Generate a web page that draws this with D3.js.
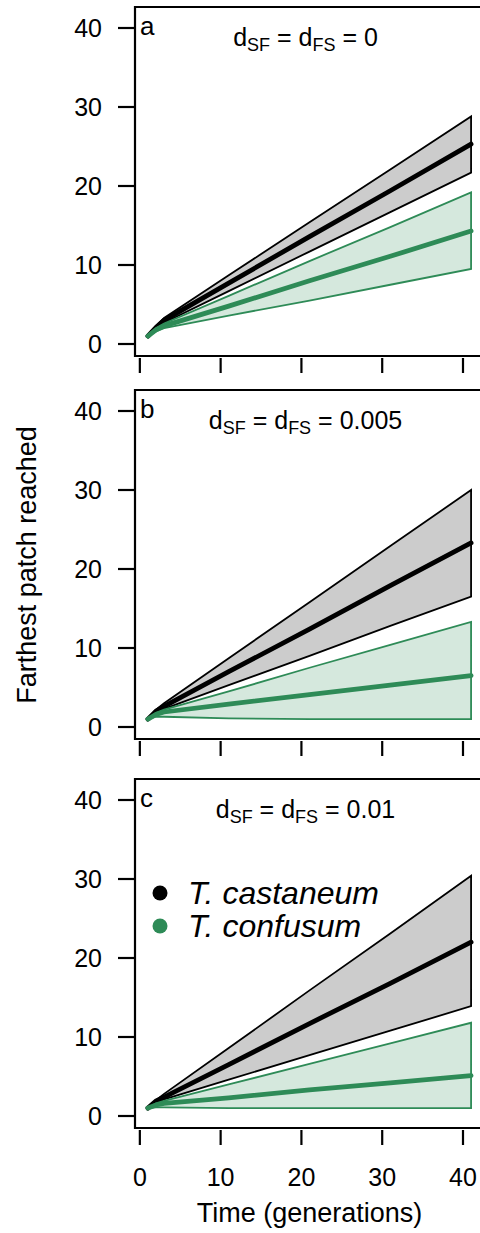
<!DOCTYPE html>
<html lang="en">
<head>
<meta charset="utf-8">
<title>Farthest patch reached</title>
<script src="https://d3js.org/d3.v7.min.js"></script>
<style>
  body { margin: 0; background: white; }
  svg text { font-family: "Liberation Sans", Arial, sans-serif; fill: black; }
  .tick { font-size: 25px; }
  .letter { font-size: 26px; }
  .title { font-size: 27px; }
  .note { font-size: 25px; }
  .legend { font-size: 32px; font-style: italic; }
</style>
</head>
<body>
<svg></svg>
<script>
const gens = [1, 2, 3, 11, 21, 31, 41];
const xTicks = [0, 10, 20, 30, 40];
const yTicks = [0, 10, 20, 30, 40];
const panelLetters = ["a", "b", "c"];
const dispersal = ["0", "0.005", "0.01"];

// T. castaneum (one row per panel)
const castUpper = [
  [1, 2.3, 3.3, 8.7, 15.4, 22.1, 28.8],
  [1, 2.2, 3.0, 8.7, 15.8, 22.9, 30.0],
  [1, 2.0, 2.8, 8.6, 15.9, 23.1, 30.4]
];
const castMean = [
  [1, 2.1, 3.0, 7.7, 13.6, 19.4, 25.3],
  [1, 2.0, 2.6, 7.0, 12.4, 17.9, 23.3],
  [1, 1.9, 2.4, 6.5, 11.7, 16.8, 22.0]
];
const castLower = [
  [1, 2.0, 2.7, 6.7, 11.7, 16.7, 21.7],
  [1, 1.9, 2.3, 5.3, 9.0, 12.8, 16.5],
  [1, 1.7, 2.1, 4.6, 7.7, 10.8, 13.9]
];
// T. confusum
const confUpper = [
  [1, 2.0, 2.6, 6.1, 10.5, 14.8, 19.2],
  [1, 1.8, 2.2, 4.5, 7.5, 10.4, 13.3],
  [1, 1.6, 1.9, 4.0, 6.6, 9.2, 11.8]
];
const confMean = [
  [1, 1.8, 2.3, 4.8, 8.0, 11.1, 14.3],
  [1, 1.6, 1.9, 2.9, 4.1, 5.3, 6.5],
  [1, 1.4, 1.6, 2.3, 3.3, 4.2, 5.1]
];
const confLower = [
  [1, 1.6, 2.0, 3.6, 5.5, 7.5, 9.5],
  [1, 1.3, 1.3, 1.1, 1.0, 1.0, 1.0],
  [1, 1.1, 1.1, 1.0, 1.0, 1.0, 1.0]
];

const species = ["T. castaneum", "T. confusum"];
const colors = ["black", "#2E8B57"];

const W = 480, H = 1233;
const left = 135, right = 484;
const zeros = [344, 727, 1116];   // pixel of y = 0 in each panel
const span = 316;                 // pixels from 0 to 40

const svg = d3.select("svg").attr("width", W).attr("height", H);

const x = d3.scaleLinear().domain([-0.6, 42.6]).range([left, right]);

panelLetters.forEach((letter, p) => {
  const y = d3.scaleLinear().domain([0, 40]).range([zeros[p], zeros[p] - span]);
  const top = y(40) - 21, bottom = y(0) + 12;
  const g = svg.append("g");

  const series = [
    {lo: castLower[p], hi: castUpper[p], mean: castMean[p], col: colors[0]},
    {lo: confLower[p], hi: confUpper[p], mean: confMean[p], col: colors[1]}
  ];

  const band = d3.area()
    .x((d, i) => x(gens[i]))
    .y0(d => y(d[0]))
    .y1(d => y(d[1]));
  const line = d3.line()
    .x((d, i) => x(gens[i]))
    .y(d => y(d));

  series.forEach(s => {
    const pts = s.lo.map((v, i) => [v, s.hi[i]]);
    g.append("path")
      .attr("d", band(pts))
      .attr("fill", s.col)
      .attr("fill-opacity", 0.2)
      .attr("stroke", s.col)
      .attr("stroke-width", 1.8);
    g.append("path")
      .attr("d", line(s.mean))
      .attr("fill", "none")
      .attr("stroke", s.col)
      .attr("stroke-width", 4.8)
      .attr("stroke-linecap", "round");
  });

  // box (right side falls off the page)
  g.append("path")
    .attr("d", `M${right},${top}H${left}V${bottom}H${right}`)
    .attr("fill", "none")
    .attr("stroke", "black")
    .attr("stroke-width", 2.2);

  // y axis ticks
  g.selectAll(".yt").data(yTicks).enter().append("line")
    .attr("x1", left - 17).attr("x2", left)
    .attr("y1", d => y(d)).attr("y2", d => y(d))
    .attr("stroke", "black").attr("stroke-width", 2.2);
  g.selectAll(".yl").data(yTicks).enter().append("text")
    .attr("class", "tick")
    .attr("x", left - 33)
    .attr("y", d => y(d))
    .attr("dy", "0.36em")
    .attr("text-anchor", "end")
    .text(d => d);

  // x axis ticks
  g.selectAll(".xt").data(xTicks).enter().append("line")
    .attr("x1", d => x(d)).attr("x2", d => x(d))
    .attr("y1", bottom + 2).attr("y2", bottom + 17)
    .attr("stroke", "black").attr("stroke-width", 2.2);
  if (p === 2) {
    g.selectAll(".xl").data(xTicks).enter().append("text")
      .attr("class", "tick")
      .attr("x", d => x(d))
      .attr("y", bottom + 58)
      .attr("text-anchor", "middle")
      .text(d => d);
  }

  g.append("text")
    .attr("class", "letter")
    .attr("x", left + 5)
    .attr("y", y(40) + 7)
    .text(letter);

  const note = g.append("text")
    .attr("class", "note")
    .attr("x", (left + right) / 2 - 4)
    .attr("y", y(40) + 18)
    .attr("text-anchor", "middle");
  note.append("tspan").text("d");
  note.append("tspan").attr("font-size", 18).attr("dy", 5).text("SF");
  note.append("tspan").attr("dy", -5).text(" = d");
  note.append("tspan").attr("font-size", 18).attr("dy", 5).text("FS");
  note.append("tspan").attr("dy", -5).text(" = " + dispersal[p]);

  if (p === 2) {
    species.forEach((sp, i) => {
      g.append("circle")
        .attr("cx", 160).attr("cy", 893 + i * 33)
        .attr("r", 7.5)
        .attr("fill", colors[i]);
      g.append("text")
        .attr("class", "legend")
        .attr("x", 188).attr("y", 904 + i * 33)
        .text(sp);
    });
  }
});

svg.append("text")
  .attr("class", "title")
  .attr("x", (left + right) / 2)
  .attr("y", 1222)
  .attr("text-anchor", "middle")
  .text("Time (generations)");

svg.append("text")
  .attr("class", "title")
  .attr("transform", "translate(36,565) rotate(-90)")
  .attr("text-anchor", "middle")
  .text("Farthest patch reached");
</script>
</body>
</html>
